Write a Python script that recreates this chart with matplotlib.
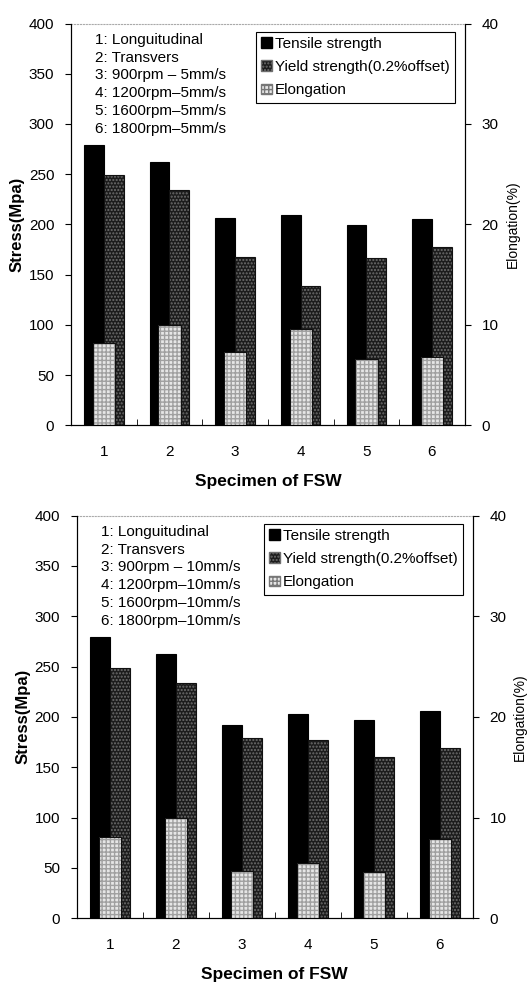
import matplotlib
matplotlib.use("Agg")
import matplotlib.pyplot as plt
from matplotlib.patches import Patch
import numpy as np

plt.rcParams['font.family'] = ['Liberation Sans', 'DejaVu Sans']

specimens = ['1', '2', '3', '4', '5', '6']

tensile_5 = [279, 262, 206, 209, 199, 205]
yield_5 = [249, 234, 168, 139, 167, 177]
elong_5 = [8.2, 10.0, 7.3, 9.6, 6.6, 6.8]
notes_5 = ["1: Longuitudinal", "2: Transvers", "3: 900rpm \u2013 5mm/s",
           "4: 1200rpm\u20135mm/s", "5: 1600rpm\u20135mm/s", "6: 1800rpm\u20135mm/s"]

tensile_10 = [279, 262, 192, 203, 197, 206]
yield_10 = [249, 234, 179, 177, 160, 169]
elong_10 = [8.1, 10.0, 4.7, 5.5, 4.6, 7.9]
notes_10 = ["1: Longuitudinal", "2: Transvers", "3: 900rpm \u2013 10mm/s",
            "4: 1200rpm\u201310mm/s", "5: 1600rpm\u201310mm/s", "6: 1800rpm\u201310mm/s"]

series_names = ["Tensile strength", "Yield strength(0.2%offset)", "Elongation"]
stress_ticks = [0, 50, 100, 150, 200, 250, 300, 350, 400]
elong_ticks = [0, 10, 20, 30, 40]

fig = plt.figure(figsize=(5.30, 9.82), dpi=100)

TEN = dict(fc='#000000')
YLD = dict(fc='#1c1c1c', hatch='.....', hc='#6e6e6e')
ELG = dict(fc='#e6e6e6', hatch='++++', hc='#a0a0a0')


def hbar(ax, x, h, w, style):
    if 'hatch' in style:
        ax.bar(x, h, w, color=style['fc'], hatch=style['hatch'],
               edgecolor=style['hc'], linewidth=0)
        ax.bar(x, h, w, fill=False, edgecolor='#111111', linewidth=0.8)
    else:
        ax.bar(x, h, w, color=style['fc'], edgecolor='#000000', linewidth=0.8)


def panel(rect, tensile, yld, elong, notes):
    ax = fig.add_axes(rect)
    x = np.arange(1, len(specimens) + 1)
    hbar(ax, x - 0.15, tensile, 0.30, TEN)
    hbar(ax, x + 0.15, yld, 0.30, YLD)
    ax.set_xlim(0.5, 6.5)
    ax.set_ylim(0, 400)
    ax.set_yticks(stress_ticks)
    ax.set_xticks(x)
    ax.set_xticklabels(specimens)
    ax.set_xticks(np.arange(1.5, 6.5, 1.0), minor=True)
    ax.tick_params(axis='x', which='major', length=0, pad=14, labelsize=11)
    ax.tick_params(axis='x', which='minor', length=4, direction='in')
    ax.tick_params(axis='y', length=4, direction='out', labelsize=11, pad=8)
    ax.spines['top'].set_color('#aaaaaa')
    ax.spines['top'].set_linestyle(':')
    ax.set_ylabel("Stress(Mpa)", fontsize=12, fontweight='bold', labelpad=3)
    ax.set_xlabel("Specimen of FSW", fontsize=12.5, fontweight='bold', labelpad=11)

    ax2 = ax.twinx()
    hbar(ax2, x, elong, 0.34, ELG)
    ax2.set_ylim(0, 40)
    ax2.set_yticks(elong_ticks)
    ax2.tick_params(axis='y', length=4, direction='out', labelsize=11, pad=8)
    ax2.spines['top'].set_visible(False)
    ax2.set_ylabel("Elongation(%)", fontsize=10, labelpad=5)

    ax.text(0.06, 0.977, "\n".join(notes), transform=ax.transAxes,
            fontsize=11, va='top', ha='left', linespacing=1.34)

    handles = [Patch(facecolor=TEN['fc'], edgecolor='black'),
               Patch(facecolor=YLD['fc'], hatch=YLD['hatch'], edgecolor=YLD['hc']),
               Patch(facecolor=ELG['fc'], hatch=ELG['hatch'], edgecolor='#777777')]
    leg = ax2.legend(handles, series_names, loc='upper right',
                     bbox_to_anchor=(0.975, 0.98), fontsize=11,
                     handlelength=0.7, handleheight=0.7, handletextpad=0.2,
                     borderpad=0.35, labelspacing=0.6, fancybox=False,
                     framealpha=1, edgecolor='black', borderaxespad=0)
    leg.get_frame().set_linewidth(0.8)
    return ax, ax2


panel([0.134, 0.567, 0.743, 0.409], tensile_5, yield_5, elong_5, notes_5)
panel([0.145, 0.065, 0.747, 0.410], tensile_10, yield_10, elong_10, notes_10)

fig.savefig("out.png", dpi=100)
